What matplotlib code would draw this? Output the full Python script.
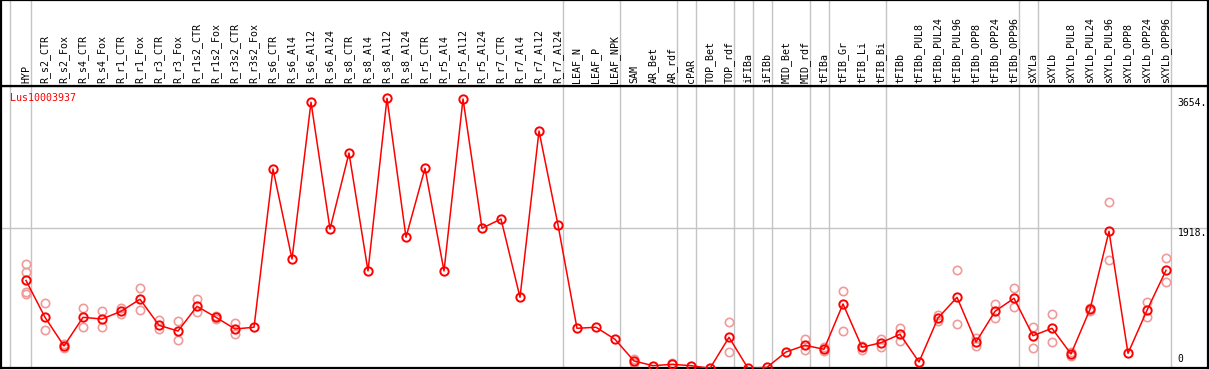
"""
Expression profile for one gene across tissues / treatments — mean per sample
(dark red, joined by a line) with the individual replicates as pale circles.
"""

import matplotlib
matplotlib.use("Agg")
import matplotlib.pyplot as plt
import matplotlib.transforms as mtransforms

# ---- data -------------------------------------------------------------------
gene_id = "Lus10003937"

samples = [
    "HYP", "R_s2_CTR", "R_s2_Fox", "R_s4_CTR", "R_s4_Fox", "R_r1_CTR", "R_r1_Fox",
    "R_r3_CTR", "R_r3_Fox", "R_r1s2_CTR", "R_r1s2_Fox", "R_r3s2_CTR", "R_r3s2_Fox",
    "R_s6_CTR", "R_s6_Al4", "R_s6_Al12", "R_s6_Al24", "R_s8_CTR", "R_s8_Al4",
    "R_s8_Al12", "R_s8_Al24", "R_r5_CTR", "R_r5_Al4", "R_r5_Al12", "R_r5_Al24",
    "R_r7_CTR", "R_r7_Al4", "R_r7_Al12", "R_r7_Al24", "LEAF_N", "LEAF_P", "LEAF_NPK",
    "SAM", "AR_Bet", "AR_rdf", "cPAR", "TOP_Bet", "TOP_rdf", "iFIBa", "iFIBb",
    "MID_Bet", "MID_rdf", "tFIBa", "tFIB_Gr", "tFIB_Li", "tFIB_Bi", "tFIBb",
    "tFIBb_PUL8", "tFIBb_PUL24", "tFIBb_PUL96", "tFIBb_OPP8", "tFIBb_OPP24",
    "tFIBb_OPP96", "sXYLa", "sXYLb", "sXYLb_PUL8", "sXYLb_PUL24", "sXYLb_PUL96",
    "sXYLb_OPP8", "sXYLb_OPP24", "sXYLb_OPP96",
]

mean_expr = [
    1221, 729, 346, 729, 706, 809, 970, 622, 546, 876, 729, 573, 596,
    2710, 1508, 3601, 1908, 2923, 1348, 3654, 1798, 2719, 1348, 3645, 1918,
    2042, 996, 3217, 1962, 582, 596, 435,
    146, 83, 101, 83, 48, 462, 48, 61, 266, 355, 302, 907, 329, 390, 502,
    132, 720, 996, 399, 809, 983,
    483, 582, 239, 836, 1878, 248, 823, 1357,
]

replicates = [
    [1437, 1338, 1071, 1044], [916, 560], [373, 319], [857, 596], [813, 596],
    [857, 769], [1116, 823], [693, 569], [680, 422], [970, 796], [747, 713],
    [657, 502], [],
    [], [], [], [], [], [], [], [], [], [], [], [],
    [], [], [], [], [], [], [],
    [172, 119], [], [123, 52], [], [], [662, 266], [], [], [],
    [435, 292], [337, 283], [1076, 542], [350, 292], [443, 329], [590, 409],
    [], [760, 684], [1357, 636], [457, 346], [903, 716], [1120, 863],
    [600, 315], [769, 395], [270, 208], [853, 817], [2265, 1490], [],
    [934, 729], [1517, 1197],
]

# group boundaries: a separator is drawn just right of these sample indices
group_ends = [-1, 0, 28, 31, 34, 35, 37, 38, 39, 41, 42, 45, 52, 53, 60]

y_ticks = [3654, 1918, 0]
y_tick_labels = ["3654.", "1918.", "0"]


def main():
    W, H = 1209, 370
    fig = plt.figure(figsize=(W / 100, H / 100), dpi=100)
    fig.patch.set_facecolor("white")

    header_px = 86
    bottom_px = 368
    ax = fig.add_axes([1 / W, (H - bottom_px) / H, 1207 / W, (bottom_px - header_px) / H])
    hax = fig.add_axes([1 / W, (H - header_px) / H, 1207 / W, header_px / H], sharex=ax)

    mono = "DejaVu Sans Mono"
    red = "#ff0000"
    pale = "#f09a9a"
    grey = "#c4c4c4"

    x = list(range(len(samples)))
    ax.set_xlim(-1.316, 62.21)
    ax.set_ylim(52, 3818)

    # separators through header and data area
    for g in group_ends:
        xs = g + 0.25 if g >= 0 else -0.84
        ax.axvline(xs, color=grey, linewidth=1.0, zorder=1)
        hax.axvline(xs, color=grey, linewidth=1.0, zorder=1)
    ax.axhline(y_ticks[1], color=grey, linewidth=1.0, zorder=1)

    # replicates first, means on top
    rx, ry = [], []
    for i, reps in enumerate(replicates):
        for r in reps:
            rx.append(i)
            ry.append(r)
    ax.plot(rx, ry, linestyle="none", marker="o", markersize=6, mfc="none",
            mec=pale, mew=1.2, zorder=2)
    ax.plot(x, mean_expr, color=red, linewidth=1.1, marker="o", markersize=6,
            mfc="none", mec=red, mew=1.4, zorder=3)

    # value labels at the right edge
    ax.text(60.62, y_ticks[0], y_tick_labels[0], fontsize=7, family=mono,
            va="top", ha="left")
    ax.text(60.62, y_ticks[1], y_tick_labels[1], fontsize=7, family=mono,
            va="top", ha="left")
    ax.text(60.62, 0.015, y_tick_labels[2], fontsize=7, family=mono, va="bottom",
            ha="left", transform=mtransforms.blended_transform_factory(ax.transData, ax.transAxes))

    ax.text(-0.85, 0.975, gene_id, color=red, fontsize=7.2, family=mono,
            va="top", ha="left", transform=mtransforms.blended_transform_factory(ax.transData, ax.transAxes))

    # rotated sample names in the header strip
    for i, name in enumerate(samples):
        hax.text(i, 0.03, name, rotation=90, fontsize=7.2, family=mono,
                 ha="center", va="bottom",
                 transform=mtransforms.blended_transform_factory(hax.transData, hax.transAxes))

    for a in (ax, hax):
        a.set_xticks([])
        a.set_yticks([])
        for s in a.spines.values():
            s.set_color("black")
            s.set_linewidth(1.6)
    hax.set_ylim(0, 1)

    fig.savefig("out.png", dpi=100, facecolor="white")
    plt.close(fig)


if __name__ == "__main__":
    main()
